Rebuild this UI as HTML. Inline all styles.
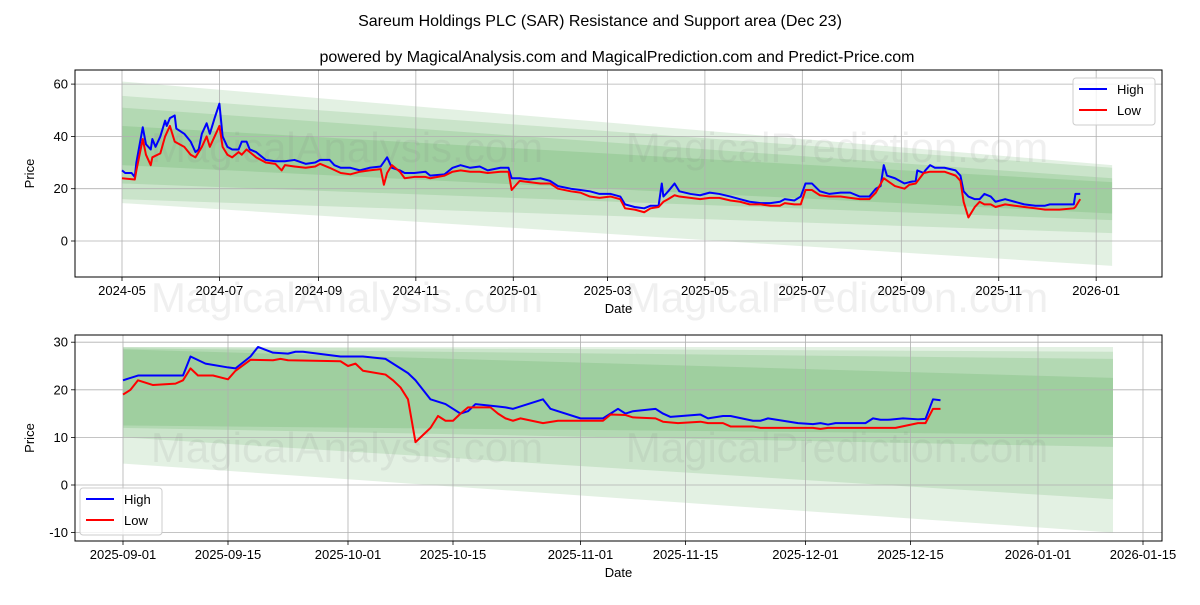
<!DOCTYPE html>
<html><head><meta charset="utf-8">
<style>
html,body{margin:0;padding:0;background:#fff;}
svg text{font-family:"Liberation Sans","DejaVu Sans",sans-serif;}
</style></head>
<body>
<svg id="chart" width="1200" height="600" xmlns="http://www.w3.org/2000/svg">
<text x="600" y="26" font-size="16" text-anchor="middle">Sareum Holdings PLC (SAR) Resistance and Support area (Dec 23)</text>
<text x="617" y="62" font-size="16" text-anchor="middle">powered by MagicalAnalysis.com and MagicalPrediction.com and Predict-Price.com</text>
<g id="top"></g>
<g id="bot"></g>
</svg>
<script>
// ---- top panel data (day offset from 2024-05-01) ----
const topHighDays=[0,2,6,8,9,13,15,18,19,21,24,27,28,30,33,34,39,43,46,48,50,53,55,58,61,63,66,69,73,75,78,80,84,88,90,96,102,108,115,121,124,130,133,137,143,149,155,162,166,169,174,177,183,190,193,202,207,212,218,224,229,237,242,244,249,255,262,268,273,281,287,293,299,306,312,315,321,327,331,336,338,339,342,346,349,356,362,368,374,381,387,393,400,406,412,415,421,425,428,432,437,443,450,456,462,468,472,475,477,479,484,490,493,497,498,502,503,506,509,515,522,525,527,530,534,537,540,544,547,553,559,565,572,578,581,587,590,596,597,600];
const topHigh=[27,26,26,24.5,30,43.5,37,35,39,36,40,46,44,47,48,43,41,38,34,35,41,45,41,47,52.5,40,36,35,35,38,38,35,34,32,31,30.5,30.5,31,29.5,30,31,31,29,28,28,27,28,28.5,32,28,27,26,26,26.5,25,25.5,28,29,28,28.5,27,28,28,24,24,23.5,24,23,21,20,19.5,19,18,18,17,14,13,12.5,13.5,13.5,22,17,19,22,19,18,17.5,18.5,18,17,16,15,14.5,14.5,15,16,15.5,17,22,22,19,18,18.5,18.5,17,17,20,21,29,25,24,22,22.5,23,27,26,27,29,28,28,27,25,19,17,16,16,18,17,15,16,15,14,13.5,13.5,14,14,14,14,18,18];
const topLowDays=[0,8,9,13,15,18,19,24,27,30,33,39,43,46,48,50,53,55,58,61,63,66,69,73,75,78,84,90,96,100,102,108,115,121,124,130,137,143,149,155,162,164,166,169,174,177,183,190,193,202,207,212,218,224,229,237,242,244,249,255,262,268,273,281,287,293,299,306,312,315,321,327,331,336,339,342,346,349,356,362,368,374,381,387,393,400,406,412,415,421,425,428,432,437,443,450,456,462,468,472,477,484,490,493,497,502,506,515,522,525,527,530,534,537,540,544,547,553,559,565,572,578,587,596,597,600];
const topLow=[24,23.5,27,39,33,29,32,33.5,40,44,38,36,33,32,34,36,40,36,40,44,36,33,32,34,33,35,32,30,29.5,27,29,28.5,28,28.5,29.5,28,26,25.5,26.5,27,27.5,21.5,26,29,26.5,24,24.5,24.5,24,25,26.5,27,26.5,26.5,26,26.5,26.5,19.5,23,22.5,22,22,20,19,18.5,17,16.5,17,16,12.5,12,11,12.5,13,15,16,17.5,17,16.5,16,16.5,16.5,15.5,15,14,14,13.5,13.5,14.5,14,14,19.5,19.5,17.5,17,17,16.5,16,16,18.5,24,21,20,21.5,22,26,26.5,26.5,25,23,15,9,13,15,14,14,13,14,13.5,13,12.5,12,12,12.5,13,16];
const topBandLoStart=[14.5,16,22,29], topBandHiStart=[61,55.5,51,44];
const topBandLoEnd=[-9.5,3,8,10.5], topBandHiEnd=[29,28,24,22.5];
const topTickLabels=["2024-05","2024-07","2024-09","2024-11","2025-01","2025-03","2025-05","2025-07","2025-09","2025-11","2026-01"];
const topTickDays=[0,61,123,184,245,304,365,426,488,549,610];
const topYTicks=[0,20,40,60];
// ---- bottom panel data (day offset from 2025-09-01) ----
const botHighDays=[0,2,7,8,9,11,14,15,17,18,20,22,23,24,29,31,32,35,36,38,39,41,43,44,45,46,47,50,51,52,56,57,61,64,65,66,67,68,71,72,73,77,78,80,81,84,85,86,90,92,93,94,95,99,100,101,102,104,106,107,108,109];
const botHigh=[22,23,23,23,27,25.5,24.7,24.5,27,29,27.8,27.6,28,28,27,27,27,26.5,25.5,23.5,22,18,17,16,15,15.5,17,16.5,16.3,16,18,16,14,14,15,16,15,15.5,16,15,14.3,14.8,14,14.5,14.5,13.5,13.5,14,13,12.8,13,12.7,13,13,14,13.7,13.7,14,13.8,13.9,18,17.8,18];
const botLowDays=[0,1,2,4,7,8,9,10,12,14,15,17,20,21,22,29,30,31,32,35,36,37,38,39,41,42,43,44,45,46,49,50,51,52,53,56,58,64,65,67,68,71,72,74,77,78,80,81,84,85,92,93,94,97,103,106,107,108,109];
const botLow=[19,20,22,21,21.3,22,24.5,23,23,22.2,24,26.3,26.2,26.5,26.2,26,25,25.5,24,23.2,22,20.5,18,9,12,14.5,13.5,13.5,15,16.3,16.3,15,14,13.5,14,13,13.5,13.5,14.8,14.7,14.2,14,13.3,13,13.3,13,13,12.3,12.3,12,12,11.8,12,12,12,13,13,16,16];
const botBandLoStart=[4.5,10,12,12.5], botBandHiStart=[29,29,28.7,28.5];
const botBandLoEnd=[-10,-3,8,10.5], botBandHiEnd=[29,28,26.5,22.5];
const botTickLabels=["2025-09-01","2025-09-15","2025-10-01","2025-10-15","2025-11-01","2025-11-15","2025-12-01","2025-12-15","2026-01-01","2026-01-15"];
const botTickDays=[0,14,30,44,61,75,91,105,122,136];
const botYTicks=[-10,0,10,20,30];

const NS="http://www.w3.org/2000/svg";
function mk(parent,tag,attrs){const e=document.createElementNS(NS,tag);for(const k in attrs)e.setAttribute(k,attrs[k]);parent.appendChild(e);return e;}

function panel(g,cfg){
  const {L,R,T,B,xs,ys,bandEnd}=cfg;
  const X=d=>L+ (d-cfg.d0)*xs + cfg.x0off, Y=v=>cfg.y0-v*ys;
  // bands
  for(let i=0;i<cfg.bLoS.length;i++){
    const p=mk(g,'polygon',{points:`${X(0)},${Y(cfg.bHiS[i])} ${X(bandEnd)},${Y(cfg.bHiE[i])} ${X(bandEnd)},${Y(cfg.bLoE[i])} ${X(0)},${Y(cfg.bLoS[i])}`,fill:'rgb(0,128,0)','fill-opacity':'0.11'});
    
    
  }
  // grid
  cfg.xt.forEach((d,i)=>{
    const x=X(d);
    const l=mk(g,'line',{x1:x,x2:x,y1:T,y2:B,stroke:'#b0b0b0','stroke-width':0.8});
    
    mk(g,'line',{x1:x,x2:x,y1:B,y2:B+4,stroke:'#000','stroke-width':0.8});
    const t=mk(g,'text',{x:x,y:B+18,'font-size':13,'text-anchor':'middle'});t.textContent=cfg.xl[i];
    
  });
  cfg.yt.forEach(v=>{
    const y=Y(v);
    const l=mk(g,'line',{x1:L,x2:R,y1:y,y2:y,stroke:'#b0b0b0','stroke-width':0.8});
    
    mk(g,'line',{x1:L-4,x2:L,y1:y,y2:y,stroke:'#000','stroke-width':0.8});
    const t=mk(g,'text',{x:L-7,y:y+4.5,'font-size':13,'text-anchor':'end'});t.textContent=v;
    
  });
  // watermarks
  cfg.wm.forEach(w=>{
    const t=mk(g,'text',{x:w[0],y:w[1],'font-size':42,'text-anchor':'middle',fill:'#808080','fill-opacity':0.12});t.textContent=w[2];
    
  });
  // lines
  const line=(days,vals,col,name)=>{
    const p=mk(g,'polyline',{points:days.map((d,i)=>X(d)+','+Y(vals[i])).join(' '),fill:'none',stroke:col,'stroke-width':2,'stroke-linejoin':'round'});
    
  };
  line(cfg.hd,cfg.h,'#0000ff','high-line');
  line(cfg.ld,cfg.l,'#ff0000','low-line');
  const fr=mk(g,'rect',{x:L,y:T,width:R-L,height:B-T,fill:'none',stroke:'#000','stroke-width':1});
  
  // axis labels
  const xl=mk(g,'text',{x:(L+R)/2,y:B+36,'font-size':13,'text-anchor':'middle'});xl.textContent='Date';
  
  const yl=mk(g,'text',{x:0,y:0,'font-size':13,'text-anchor':'middle',transform:`translate(${L-41},${(T+B)/2}) rotate(-90)`});yl.textContent='Price';
  
  // legend
  const [lx,ly]=cfg.leg;
  const lg=mk(g,'g',{});
  
  mk(lg,'rect',{x:lx,y:ly,width:82,height:47,rx:3,fill:'#fff','fill-opacity':0.8,stroke:'#ccc'});
  [['High','#0000ff'],['Low','#ff0000']].forEach((e,i)=>{
    const eg=mk(lg,'g',{});
    
    mk(eg,'line',{x1:lx+6,x2:lx+34,y1:ly+11+i*21,y2:ly+11+i*21,stroke:e[1],'stroke-width':2});
    const t=mk(eg,'text',{x:lx+44,y:ly+16+i*21,'font-size':13});t.textContent=e[0];
  });
}
panel(document.getElementById('top'),{L:75,R:1162,T:70,B:277,d0:0,x0off:47,xs:1.597,y0:241,ys:2.615,bandEnd:620,
  bLoS:topBandLoStart,bHiS:topBandHiStart,bLoE:topBandLoEnd,bHiE:topBandHiEnd,
  xt:topTickDays,xl:topTickLabels,yt:topYTicks,hd:topHighDays,h:topHigh,ld:topLowDays,l:topLow,
  wm:[[347,162,'MagicalAnalysis.com'],[837,162,'MagicalPrediction.com'],[347,312,'MagicalAnalysis.com'],[837,312,'MagicalPrediction.com']],leg:[1073,78]});
panel(document.getElementById('bot'),{L:75,R:1162,T:335,B:541,d0:0,x0off:48,xs:7.5,y0:485,ys:4.76,bandEnd:132,
  bLoS:botBandLoStart,bHiS:botBandHiStart,bLoE:botBandLoEnd,bHiE:botBandHiEnd,
  xt:botTickDays,xl:botTickLabels,yt:botYTicks,hd:botHighDays,h:botHigh,ld:botLowDays,l:botLow,
  wm:[[347,462,'MagicalAnalysis.com'],[837,462,'MagicalPrediction.com']],leg:[80,488]});
</script>
</body></html>
